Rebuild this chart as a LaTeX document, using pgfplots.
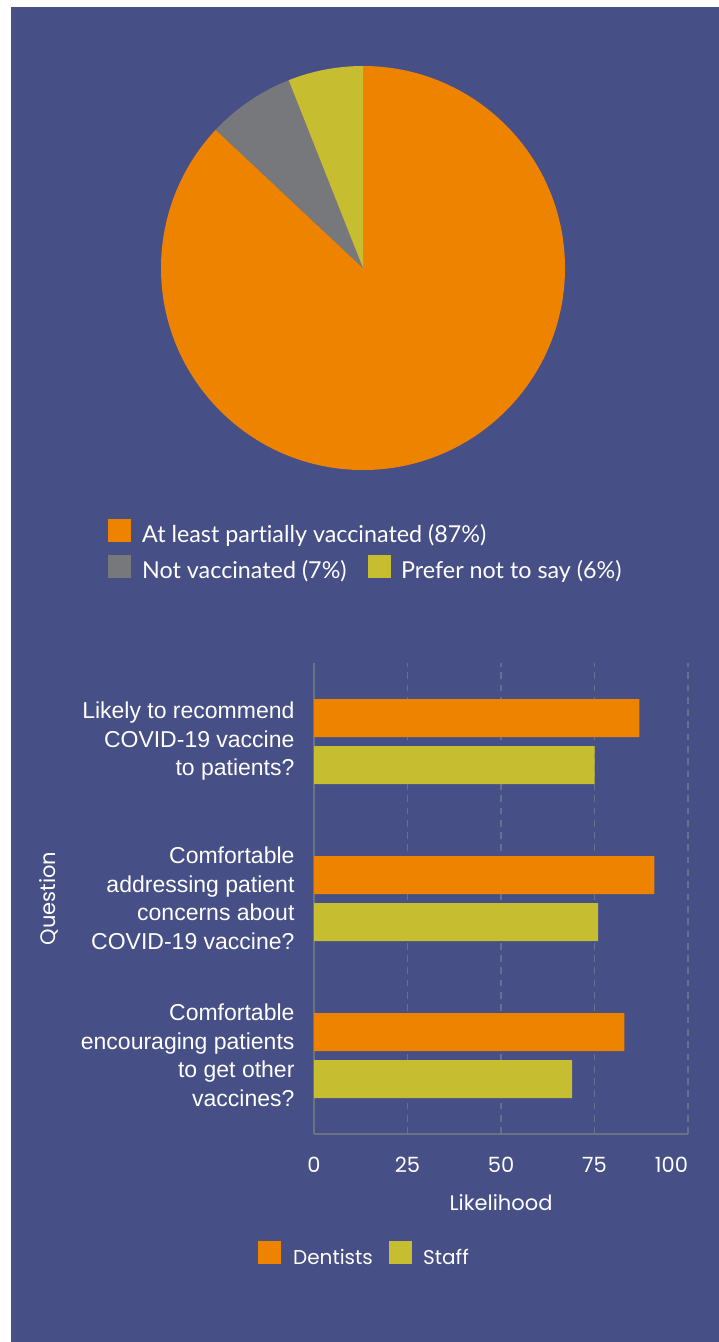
\documentclass[border=0pt]{standalone}
\usepackage{pgfplots}
\pgfplotsset{compat=1.18}
\usepackage{pgfplotstable}
\usepackage{fontspec}
\setmainfont{Lato}[Ligatures={NoCommon}]
\newfontfamily\lib{Liberation Sans}
\newfontfamily\fut{Poppins}
\definecolor{bg}{HTML}{474F87}
\definecolor{cOrange}{HTML}{EE8300}
\definecolor{cGray}{HTML}{77787B}
\definecolor{cYellow}{HTML}{C7BD31}
\definecolor{axgray}{HTML}{6B7282}
\definecolor{gridgray}{HTML}{66708F}
\newcommand\swatch[1]{\textcolor{#1}{\rule{23pt}{23pt}}}

\pgfplotstableread{
value
87
7
6
}\piedata

\pgfplotstableread{
pos dentists staff
2 87 75
1 91 76
0 83 69
}\bardata

\begin{document}
\begin{tikzpicture}
\fill[white] (0,0) rectangle (719pt,-1342pt);
\useasboundingbox (0,0) rectangle (719pt,-1342pt);
\fill[bg] (11pt,-7pt) rectangle (719pt,-1342pt);

% ---------- pie ----------
\begin{axis}[at={(363pt,-268pt)}, anchor=origin, x=202pt, y=202pt,
  xmin=-1, xmax=1, ymin=-1, ymax=1, hide axis, clip=false]
\addplot[draw=none] coordinates {(0,0)};
\pgfplotsextra{%
  \gdef\startang{90}%
  \foreach \i/\c in {0/cOrange,1/cGray,2/cYellow}{%
    \pgfplotstablegetelem{\i}{value}\of\piedata
    \pgfmathsetmacro\endang{\startang-3.6*\pgfplotsretval}%
    \fill[\c] (axis cs:0,0) -- ++(\startang:202pt) arc[start angle=\startang, end angle=\endang, radius=202pt] -- cycle;
    \xdef\startang{\endang}%
  }%
}
\end{axis}

\node[anchor=base west, text=white, font=\fontsize{23.3}{27}\selectfont, inner sep=0pt] at (108pt,-542pt)
  {\swatch{cOrange}\hspace{11pt}At least partially vaccinated (87\%)};
\node[anchor=base west, text=white, font=\fontsize{23.3}{27}\selectfont, inner sep=0pt] at (108pt,-578pt)
  {\swatch{cGray}\hspace{11pt}Not vaccinated (7\%)};
\node[anchor=base west, text=white, font=\fontsize{23.3}{27}\selectfont, inner sep=0pt] at (368pt,-578pt)
  {\swatch{cYellow}\hspace{10pt}Prefer not to say (6\%)};

% ---------- bars ----------
\begin{axis}[at={(314pt,-1134pt)}, anchor=south west, scale only axis,
  width=374pt, height=471pt,
  xmin=0, xmax=100, ymin=-0.5, ymax=2.5,
  xbar,
  axis x line*=bottom, axis y line*=left,
  axis line style={axgray, line width=1.5pt, -},
  major tick length=0pt,
  xtick={0,25,50,75,100},
  xticklabels={0,25,50,75,\makebox[0pt][r]{100}},
  ytick={0,1,2},
  yticklabels={
    {Comfortable\\encouraging patients\\to get other\\vaccines?},
    {Comfortable\\addressing patient\\concerns about\\COVID-19 vaccine?},
    {Likely to recommend\\COVID-19 vaccine\\to patients?}},
  xmajorgrids,
  major grid style={gridgray, line width=1.5pt, dash pattern=on 6.7pt off 5.6pt},
  xticklabel style={font=\fut\fontsize{21}{25}\selectfont, text=white, anchor=base, yshift=-38pt},
  yticklabel style={font=\lib\fontsize{23}{28.5}\selectfont, text=white, align=right, anchor=east, xshift=-16pt},
  xlabel={Likelihood},
  xlabel style={font=\fut\fontsize{21}{25}\selectfont, text=white, at={(axis description cs:0.5,0)}, anchor=base, yshift=-76pt},
  ylabel={Question},
  ylabel style={font=\fut\fontsize{21}{25}\selectfont, text=white, at={(axis description cs:-0.7086,0.5)}, anchor=center},
]
\addplot[xbar, bar width=38pt, bar shift=23.5pt, fill=cOrange, draw=none] table[x=dentists, y=pos] {\bardata};
\addplot[xbar, bar width=38pt, bar shift=-23.5pt, fill=cYellow, draw=none] table[x=staff, y=pos] {\bardata};
\end{axis}

\node[anchor=base west, text=white, font=\fut\fontsize{20}{24}\selectfont, inner sep=0pt] at (258pt,-1264pt)
  {\swatch{cOrange}\hspace{12pt}Dentists};
\node[anchor=base west, text=white, font=\fut\fontsize{20}{24}\selectfont, inner sep=0pt] at (389pt,-1264pt)
  {\swatch{cYellow}\hspace{11pt}Staff};
\end{tikzpicture}
\end{document}
